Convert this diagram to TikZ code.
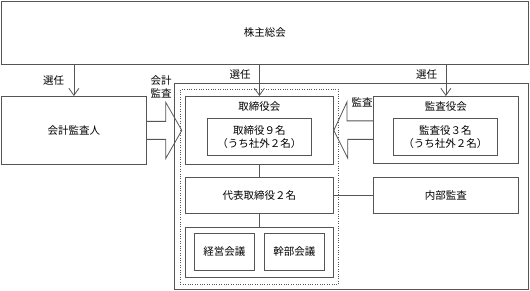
\documentclass[tikz,border=0pt]{standalone}
\usepackage{fontspec}
\newfontfamily\jpfont{Noto Sans CJK JP}
\usetikzlibrary{arrows.meta,calc,positioning}
\definecolor{linegray}{HTML}{555555}
\tikzset{
    every node/.style={
        font=\jpfont\fontsize{10.5}{13}\selectfont,
        text=black
    },
    box/.style={
        draw=linegray,
        line width=0.8pt,
        inner sep=0pt,
        anchor=north west,
        align=center
    },
    grouped/.style={
        draw=linegray,
        line width=0.8pt,
        dash pattern=on 0.8pt off 1.6pt
    },
    link/.style={
        draw=linegray,
        line width=0.8pt
    },
    sennin/.style={
        link,
        -{Straight Barb[length=7pt,width=10pt]}
    },
    bigarrow/.style={
        link,
        line join=miter
    }
}

\begin{document}
\begin{tikzpicture}[x=1pt,y=-1pt]
    \useasboundingbox (0,0) rectangle (530,291);
    \node[box, minimum width=527pt, minimum height=63pt] (soukai) at (1,1) {株主総会};
    \node[box, minimum width=354pt, minimum height=206pt] (frame) at (174,83) {};
    \node[box, grouped, minimum width=158pt, minimum height=195pt] (yakuin) at (180,89) {};
    \node[box, minimum width=145pt, minimum height=68pt] (kaikei) at (1,96) {会計監査人};
    \node[box, minimum width=148pt, minimum height=68pt,
        label={[anchor=center,yshift=-11pt]north:取締役会}] (torikai) at (185,96) {};
    \node[box, minimum width=104pt, minimum height=37pt] (torikai9) at (207,118) {取締役９名\\（うち社外２名）};
    \node[box, minimum width=145pt, minimum height=67pt,
        label={[anchor=center,yshift=-11pt]north:監査役会}] (kansakai) at (373,96) {};
    \node[box, minimum width=104pt, minimum height=37pt] (kansa3) at (393,118) {監査役３名\\（うち社外２名）};
    \node[box, minimum width=148pt, minimum height=36pt] (daihyo) at (185,177) {代表取締役２名};
    \node[box, minimum width=145pt, minimum height=36pt] (naibu) at (373,177) {内部監査};
    \node[box, minimum width=148pt, minimum height=50pt] (kaigi) at (185,227) {};
    \node[box, minimum width=60pt, minimum height=37pt] (keiei) at (194,233) {経営会議};
    \node[box, minimum width=60pt, minimum height=37pt] (kanbu) at (264,233) {幹部会議};

    \draw[sennin] (kaikei.north |- soukai.south) -- node[pos=0.5, left=6pt] {選任} (kaikei.north);
    \draw[sennin] (torikai.north |- soukai.south) -- node[pos=0.31, left=5pt] {選任} (torikai.north);
    \draw[sennin] (kansakai.north |- soukai.south) -- node[pos=0.31, left=5pt] {選任} (kansakai.north);

    \draw[bigarrow] ($(kaikei.east)+(0,-9)$) -- ++(19,0) -- ++(0,-19) -- ++(16,28)
        -- ++(-16,28) -- ++(0,-19) -- ++(-19,0);
    \node[align=center, inner sep=0pt] (kaikeikansa) at (161,87) {会計\\監査};
    \draw[bigarrow] ($(kansakai.west)+(0,-9)$) -- ++(-26,0) -- ++(0,-19) -- (torikai.east)
        -- ++(14,28) -- ++(0,-19) -- ++(26,0);
    \node[inner sep=0pt] (kansa) at (362,102) {監査};

    \draw[link] (torikai.south) -- (daihyo.north);
    \draw[link] (daihyo.south) -- (kaigi.north);
    \draw[link] (daihyo.east) -- (naibu.west);
\end{tikzpicture}
\end{document}
